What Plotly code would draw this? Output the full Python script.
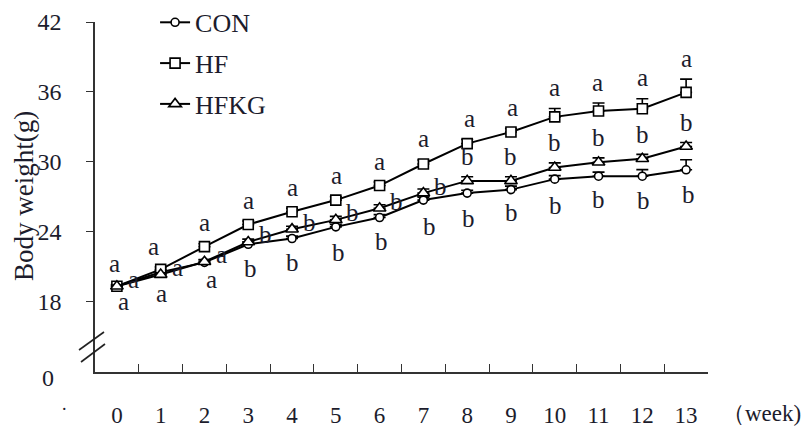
import plotly.graph_objects as go

# ---- data ----
weeks = [str(w) for w in range(14)]
con = [19.3, 20.5, 21.35, 22.9, 23.4, 24.4, 25.2, 26.7, 27.3, 27.6, 28.5, 28.75, 28.75, 29.3]
hf = [19.3, 20.75, 22.7, 24.6, 25.7, 26.7, 27.95, 29.8, 31.55, 32.55, 33.85, 34.35, 34.55, 35.95]
hfkg = [19.3, 20.3, 21.4, 23.1, 24.2, 25.0, 26.0, 27.3, 28.35, 28.35, 29.5, 29.95, 30.25, 31.3]
con_err = [0.1, 0.15, 0.2, 0.2, 0.2, 0.2, 0.25, 0.25, 0.25, 0.3, 0.3, 0.35, 0.57, 0.86]
hf_err = [0.15, 0.2, 0.25, 0.3, 0.3, 0.3, 0.3, 0.35, 0.35, 0.3, 0.72, 0.69, 0.86, 1.14]
hfkg_err = [0.1, 0.15, 0.2, 0.25, 0.25, 0.3, 0.3, 0.35, 0.35, 0.35, 0.4, 0.38, 0.38, 0.35]
con_sig = ["a", "a", "a"] + ["b"] * 11
hf_sig = ["a"] * 14
hfkg_sig = ["a", "a", "a"] + ["b"] * 11
y_ticks = [18, 24, 30, 36, 42]

# ---- style (label placement relative to points, in pixels) ----
SERIF = "Liberation Serif, Times New Roman, serif"
TXT = "#1c1c2c"
hfkg_side = ["right"] * 8 + ["above"] * 6
con_label_dx = [7, 1, 7, 2, 0, 3, 2, 6, 1, 1, 1, 0, 1, 2]
con_label_drop = [15, 21, 17, 24, 24, 26, 24, 26, 25, 23, 26, 23, 24, 25]
hf_label_dx = [-2, -7, 0, 0, 0, 1, 0, 0, 2, 2, 0, -1, 0, 0]

fig = go.Figure()

def add_series(name, y, err, symbol, size):
    fig.add_trace(go.Scatter(
        x=weeks, y=y, name=name, mode="lines+markers",
        legendgroup=name,
        line=dict(color="black", width=2),
        marker=dict(symbol=symbol, size=size, color="white",
                    line=dict(color="black", width=1.6)),
        error_y=dict(type="data", symmetric=False, array=err,
                     arrayminus=[0] * len(err), color="black",
                     thickness=1.6, width=6),
    ))

add_series("CON", con, con_err, "circle", 8)
add_series("HF", hf, hf_err, "square", 10)
add_series("HFKG", hfkg, hfkg_err, "triangle-up", 11)

ann = []
def letter(x, y, t, xs=0, ys=0):
    ann.append(dict(x=x, y=y, xref="x", yref="y", text=t, showarrow=False,
                    xshift=xs, yshift=ys, xanchor="center", yanchor="middle",
                    font=dict(family=SERIF, size=25, color=TXT)))

for i, w in enumerate(weeks):
    letter(w, hf[i] + hf_err[i], hf_sig[i], hf_label_dx[i], 21)
    letter(w, con[i], con_sig[i], con_label_dx[i], -con_label_drop[i])
    if hfkg_side[i] == "right":
        letter(w, hfkg[i], hfkg_sig[i], 17, 7)
    else:
        letter(w, hfkg[i] + hfkg_err[i], hfkg_sig[i], 0, 20)

L, T, W, H = 95, 22, 613, 350
def px(xp, yp):
    return (xp - L) / W, (T + H - yp) / H

def free_text(xp, yp, t, size, angle=0):
    a, b = px(xp, yp)
    ann.append(dict(x=a, y=b, xref="paper", yref="paper", text=t,
                    showarrow=False, xanchor="center", yanchor="middle",
                    textangle=angle,
                    font=dict(family=SERIF, size=size, color=TXT)))

# y title, axis "0" label under the break, unit label and stray dot
free_text(24, 196, "Body weight(g)", 27, -90)
free_text(48, 378, "0", 24)
free_text(761, 413, "（week)", 23)
free_text(64, 404, ".", 18)

# axis break marks
shapes = []
for (x0, y0, x1, y1) in [(79, 350, 104, 332), (81, 362, 105, 344)]:
    a0, b0 = px(x0, y0)
    a1, b1 = px(x1, y1)
    shapes.append(dict(type="line", xref="paper", yref="paper",
                       x0=a0, y0=b0, x1=a1, y1=b1,
                       line=dict(color="#222", width=1.6)))

fig.update_layout(
    width=802, height=430,
    margin=dict(l=L, r=802 - L - W, t=T, b=430 - T - H, autoexpand=False),
    paper_bgcolor="white", plot_bgcolor="white",
    font=dict(family=SERIF, size=22, color=TXT),
    showlegend=True,
    legend=dict(x=0.098, y=1.066, xanchor="left", yanchor="top",
                bgcolor="rgba(0,0,0,0)", tracegroupgap=4,
                font=dict(family=SERIF, size=26, color=TXT)),
    annotations=ann, shapes=shapes,
    xaxis=dict(type="category", tickson="boundaries", showgrid=False,
               range=[-0.5, 13.5], autorange=False,
               ticks="inside", ticklen=8, tickwidth=1.3, tickcolor="#333",
               showline=True, linecolor="#333", linewidth=1.5,
               ticklabelstandoff=22, zeroline=False,
               tickfont=dict(family=SERIF, size=23, color=TXT)),
    yaxis=dict(range=[11.93, 42], autorange=False, tickvals=y_ticks,
               ticktext=[str(v) for v in y_ticks],
               showgrid=False, zeroline=False,
               ticks="outside", ticklen=7, tickwidth=1.3, tickcolor="#333",
               showline=True, linecolor="#333", linewidth=1.5,
               ticklabelstandoff=20,
               tickfont=dict(family=SERIF, size=24, color=TXT)),
)

fig.write_html("out.html")
